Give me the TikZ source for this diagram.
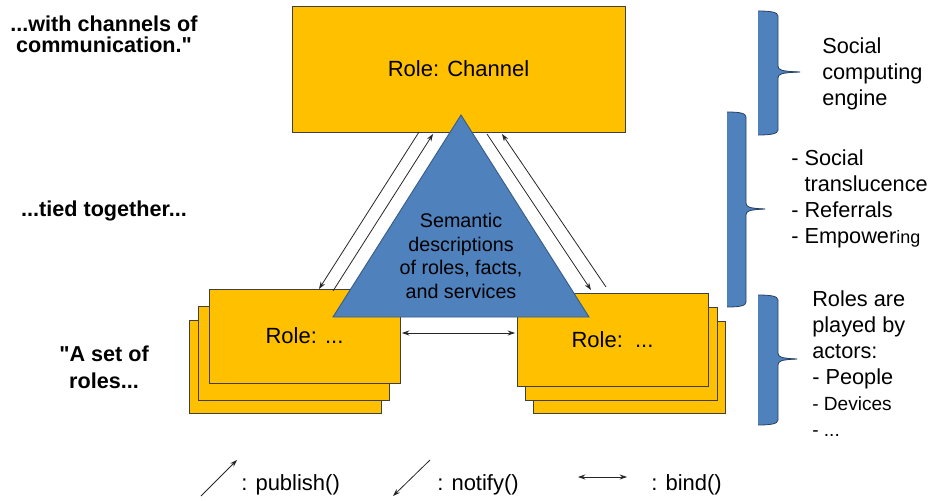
\documentclass[tikz,border=0pt]{standalone}
\usepackage{fontspec}
\setmainfont{Liberation Sans}[Ligatures=TeXOff]
\usetikzlibrary{arrows.meta}
\definecolor{roleyellow}{HTML}{FFC000}
\definecolor{semblue}{HTML}{4F81BD}
\definecolor{semedge}{HTML}{385D8A}
\definecolor{boxedge}{HTML}{3F3F3F}
\definecolor{lineink}{HTML}{262626}
\newcommand\mybrace[6]{% L T R B M X
  \fill[bracefill] (#1,#2) .. controls ({#1+12},#2) and (#3,{#2+1}) .. (#3,{#2+5}) -- (#3,{#5-6}) .. controls (#3,{#5-2}) and ({#3+3},{#5-0.7}) .. (#6,{#5-0.4}) -- (#6,{#5+0.4}) .. controls ({#3+3},{#5+0.7}) and (#3,{#5+2}) .. (#3,{#5+6}) -- (#3,{#4-5}) .. controls (#3,{#4-1}) and ({#1+12},#4) .. (#1,#4) -- cycle;
  \draw[braceline] (#1,#2) .. controls ({#1+12},#2) and (#3,{#2+1}) .. (#3,{#2+5}) -- (#3,{#5-6}) .. controls (#3,{#5-2}) and ({#3+3},{#5-0.7}) .. (#6,{#5}) .. controls ({#3+3},{#5+0.7}) and (#3,{#5+2}) .. (#3,{#5+6}) -- (#3,{#4-5}) .. controls (#3,{#4-1}) and ({#1+12},#4) .. (#1,#4);
}
\begin{document}
\begin{tikzpicture}[x=0.75pt,y=-0.75pt,
  rolebox/.style={draw=boxedge, line width=0.7pt, fill=roleyellow, inner sep=0pt,
    font=\fontsize{16.5}{19.8}\selectfont},
  semtri/.style={draw=semedge, line width=0.7pt, fill=semblue},
  conn/.style={draw=lineink, line width=0.6pt, -{Stealth[length=5.5pt,width=3.8pt]}},
  bindarrow/.style={draw=lineink, line width=0.6pt, {Stealth[length=5.5pt,width=3.8pt]}-{Stealth[length=5.5pt,width=3.8pt]}},
  bracefill/.style={fill=semblue},
  braceline/.style={draw=semedge!70!black, line width=0.6pt},
  boldnote/.style={font=\bfseries\fontsize{16.2}{15.8}\selectfont, align=center, inner sep=0pt},
  sidenote/.style={font=\fontsize{16.3}{19.8}\selectfont, align=left, inner sep=0pt, anchor=north west},
  legendtext/.style={font=\fontsize{16.5}{19.8}\selectfont, inner sep=0pt, anchor=west}
]
\useasboundingbox (0,0) rectangle (932,500);

% channel box
\node[rolebox, minimum width=249.75pt, minimum height=94.5pt] (ch) at (458.5,69) {Role: Channel};

% left stack
\node[rolebox, minimum width=144pt, minimum height=69.75pt] (lb) at (285,366.5) {};
\node[rolebox, minimum width=143.25pt, minimum height=70.5pt] (lm) at (293.5,353) {};
\node[rolebox, minimum width=143.25pt, minimum height=70.5pt] (lf) at (304.5,336) {Role: ...};

% right stack
\node[rolebox, minimum width=144pt, minimum height=69pt] (rb) at (629,367) {};
\node[rolebox, minimum width=144pt, minimum height=69.75pt] (rm) at (621,353.5) {};
\node[rolebox, minimum width=143.25pt, minimum height=69.75pt] (rf) at (612.5,339.5) {Role:\ \ ...};

% connector end points
\coordinate (ln1) at (419,132); \coordinate (ln2) at (319,289);
\coordinate (lp1) at (333,291); \coordinate (lp2) at (433,134);
\coordinate (rn1) at (487,134); \coordinate (rn2) at (591,290);
\coordinate (rp1) at (606,287); \coordinate (rp2) at (502,134);
\coordinate (b1) at (402,333); \coordinate (b2) at (515,333);

\draw[conn] (ln1) -- (ln2);
\draw[conn] (lp1) -- (lp2);
\draw[conn] (rn1) -- (rn2);
\draw[conn] (rp1) -- (rp2);

% triangle
\coordinate (apex) at (461,115);
\coordinate (tl) at (333,317);
\coordinate (tr) at (589,317);
\draw[semtri] (apex) -- (tl) -- (tr) -- cycle;
\node[align=center, inner sep=0pt, font=\fontsize{14.8}{17.8}\selectfont] (sem) at (461,256)
  {Semantic\\descriptions\\of roles, facts,\\and services};

\draw[bindarrow] (b1) -- (b2);

% left notes
\node[boldnote] (n1) at (104,34) {...with channels of\\communication."};
\node[boldnote] (n2) at (104,211) {...tied together...};
\node[boldnote, font=\bfseries\fontsize{16.2}{20}\selectfont] (n3) at (104,367) {"A set of\\roles...};

% braces
\mybrace{758}{11}{778}{135}{72}{800}
\mybrace{727}{112}{746}{307}{209}{765}
\mybrace{758}{295}{778}{425}{359}{797}

% right notes
\node[sidenote] (s1) at (822,37) {Social\\computing\\engine};
\node[sidenote, font=\fontsize{16.3}{19.7}\selectfont] (s2) at (791,149)
  {- Social\\\phantom{- }translucence\\- Referrals\\- Empower{\fontsize{13.5}{16}\selectfont ing}};
\node[sidenote, font=\fontsize{16.3}{19.5}\selectfont] (s3) at (812,290)
  {Roles are\\played by\\actors:\\- People\\{\fontsize{14.3}{17}\selectfont - Devices}\\{\fontsize{14.3}{17}\selectfont - ...}};

% legend
\coordinate (pa1) at (201,496); \coordinate (pa2) at (237,460);
\coordinate (na1) at (430,460); \coordinate (na2) at (393,496);
\coordinate (ba1) at (578,477); \coordinate (ba2) at (627,477);
\draw[conn] (pa1) -- (pa2);
\draw[conn] (na1) -- (na2);
\draw[bindarrow] (ba1) -- (ba2);
\node[legendtext] (lt1) at (241,485) {: publish()};
\node[legendtext] (lt2) at (437,485) {: notify()};
\node[legendtext] (lt3) at (651,485) {: bind()};
\end{tikzpicture}
\end{document}
